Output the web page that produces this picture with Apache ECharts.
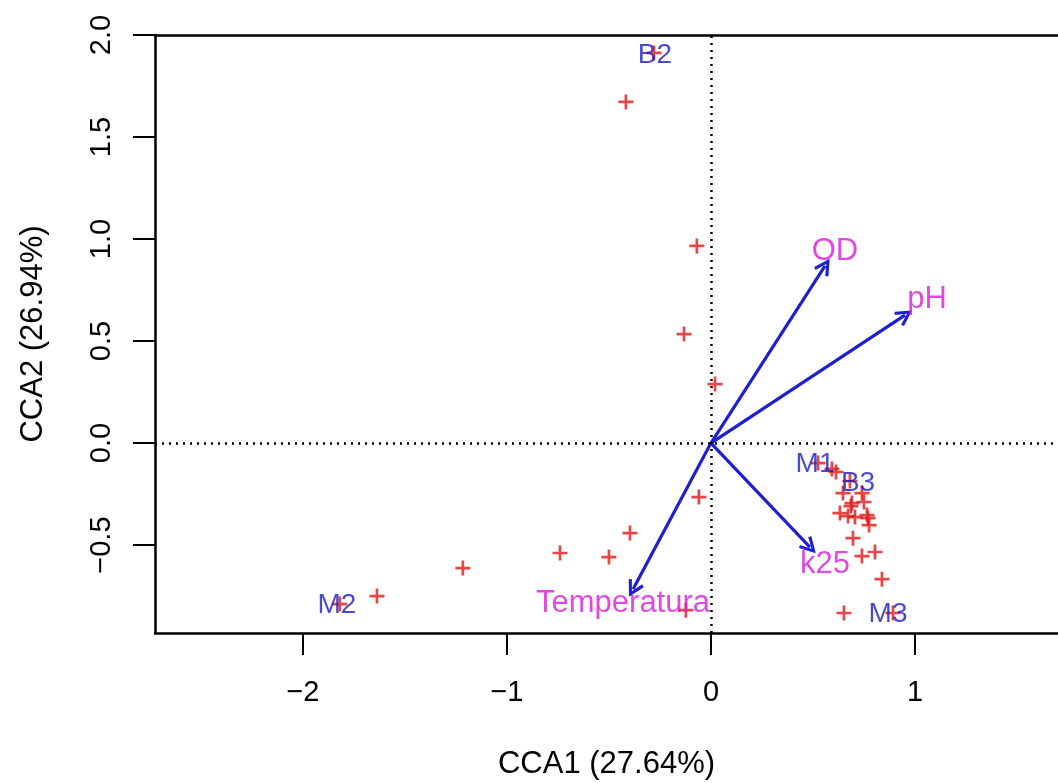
<!DOCTYPE html>
<html>
<head>
<meta charset="utf-8">
<script src="https://cdn.jsdelivr.net/npm/echarts@6/dist/echarts.min.js"></script>
<style>
html,body{margin:0;padding:0;background:#fff;}
#chart{width:1058px;height:783px;}
</style>
</head>
<body>
<div id="chart"></div>
<script>
// Red "+" sample scores
const pointsX = [-0.279, -0.417, -0.069, -0.132, 0.020, -0.059, -0.397, -0.740, -0.500, -1.216, -1.637, -1.819, -0.123,
  0.525, 0.593, 0.613, 0.681, 0.647, 0.740, 0.691, 0.686, 0.750, 0.632, 0.672, 0.706, 0.765, 0.770, 0.775, 0.696,
  0.740, 0.804, 0.838, 0.652, 0.892];
const pointsY = [1.912, 1.672, 0.966, 0.534, 0.289, -0.265, -0.441, -0.539, -0.559, -0.613, -0.750, -0.789, -0.819,
  -0.098, -0.127, -0.142, -0.186, -0.245, -0.245, -0.294, -0.309, -0.289, -0.343, -0.358, -0.363, -0.353, -0.368, -0.402, -0.466,
  -0.554, -0.534, -0.667, -0.833, -0.833];

// Blue site labels
const siteNames = ['B2', 'M1', 'B3', 'M2', 'M3'];
const siteX = [-0.275, 0.510, 0.721, -1.833, 0.868];
const siteY = [1.902, -0.103, -0.196, -0.794, -0.838];

// Environmental arrows
const envNames = ['OD', 'pH', 'k25', 'Temperatura'];
const envX = [0.559, 0.951, 0.485, -0.382];
const envY = [0.868, 0.627, -0.510, -0.716];
const envLabelX = [0.608, 1.059, 0.559, -0.431];
const envLabelY = [0.941, 0.706, -0.593, -0.784];

// Axes
const xTicks = [-2, -1, 0, 1];
const yTicks = [-0.5, 0, 0.5, 1, 1.5, 2];
const xTitle = 'CCA1 (27.64%)';
const yTitle = 'CCA2 (26.94%)';

const FONT = '"Liberation Sans", Arial, sans-serif';
const minus = s => s.replace('-', '\u2212');

const chart = echarts.init(document.getElementById('chart'), null, {renderer: 'canvas'});

const plusPath = 'path://M4.1,0H5.9V4.1H10V5.9H5.9V10H4.1V5.9H0V4.1H4.1Z';
const chevron = 'path://M0,9 L5,0 L10,9 L8.4,10 L5,3.6 L1.6,10 Z';
const AXIS_LINE = {show: true, onZero: false, lineStyle: {color: '#000', width: 2.5}};

const option = {
  animation: false,
  backgroundColor: '#ffffff',
  grid: {left: 155, right: 0, top: 35, bottom: 150, show: false, containLabel: false, outerBoundsMode: 'none'},
  xAxis: [{
    type: 'value', min: -2.725, max: 1.701, position: 'bottom',
    name: xTitle, nameLocation: 'middle', nameGap: 116,
    nameTextStyle: {fontFamily: FONT, fontSize: 31, color: '#000'},
    axisLine: AXIS_LINE,
    splitLine: {show: false},
    axisTick: {show: true, customValues: xTicks, length: 22, lineStyle: {color: '#000', width: 2}},
    axisLabel: {customValues: xTicks, margin: 45, fontFamily: FONT, fontSize: 29, color: '#000',
      formatter: v => minus(String(v))}
  }, {
    type: 'value', min: -2.725, max: 1.701, position: 'top',
    axisLine: AXIS_LINE,
    splitLine: {show: false}, axisTick: {show: false}, axisLabel: {show: false}
  }],
  yAxis: {
    type: 'value', min: -0.931, max: 2.0, position: 'left',
    name: yTitle, nameLocation: 'middle', nameGap: 106, nameRotate: 90,
    nameTextStyle: {fontFamily: FONT, fontSize: 31, color: '#000'},
    axisLine: AXIS_LINE,
    splitLine: {show: false},
    axisTick: {show: true, customValues: yTicks, length: 22, lineStyle: {color: '#000', width: 2}},
    axisLabel: {customValues: yTicks, rotate: 90, margin: 39, fontFamily: FONT, fontSize: 29, color: '#000',
      formatter: v => minus(Number(v).toFixed(1))}
  },
  series: [
    {
      type: 'scatter',
      name: 'samples',
      data: pointsX.map((x, i) => [x, pointsY[i]]),
      symbol: plusPath,
      symbolSize: 15,
      itemStyle: {color: '#e01818'},
      z: 3,
      markLine: {
        silent: true,
        symbol: 'none',
        label: {show: false},
        lineStyle: {color: '#000', type: [2, 5], width: 2.5},
        data: [{xAxis: 0}, {yAxis: 0}]
      }
    },
    {
      type: 'lines',
      coordinateSystem: 'cartesian2d',
      data: envX.map((x, i) => ({coords: [[0, 0], [x, envY[i]]]})),
      symbol: ['none', chevron],
      symbolSize: [20, 17],
      lineStyle: {color: '#1f1fd2', width: 3.2, opacity: 1},
      itemStyle: {color: '#1f1fd2'},
      z: 4
    },
    {
      type: 'scatter',
      name: 'sites',
      data: siteX.map((x, i) => [x, siteY[i], siteNames[i]]),
      symbolSize: 0,
      label: {show: true, position: 'inside', formatter: p => p.data[2],
        fontFamily: FONT, fontSize: 28, color: '#1c1cc0'},
      z: 5
    },
    {
      type: 'scatter',
      name: 'env',
      data: envLabelX.map((x, i) => [x, envLabelY[i], envNames[i]]),
      symbolSize: 0,
      label: {show: true, position: 'inside', formatter: p => p.data[2],
        fontFamily: FONT, fontSize: 31, color: '#d81ad8'},
      z: 5
    }
  ]
};
chart.setOption(option);
</script>
</body>
</html>
